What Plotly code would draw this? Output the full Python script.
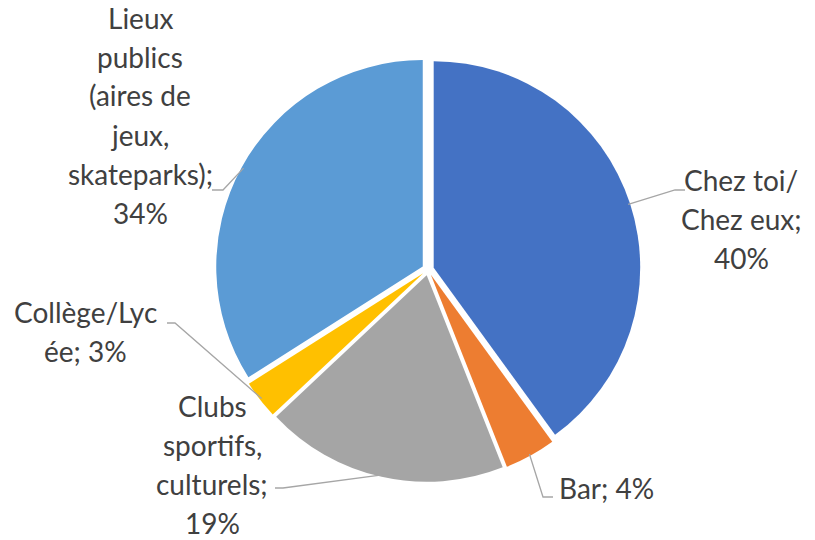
import math

import plotly.graph_objects as go

# data
labels = ["Chez toi/ Chez eux", "Bar", "Clubs sportifs, culturels", "Collège/Lycée",
          "Lieux publics (aires de jeux, skateparks)"]
values = [40, 4, 19, 3, 34]
colors = ["#4472C4", "#ED7D31", "#A5A5A5", "#FFC000", "#5B9BD5"]
label_lines = [
    ["Chez toi/", "Chez eux;", "40%"],
    ["Bar; 4%"],
    ["Clubs", "sportifs,", "culturels;", "19%"],
    ["Collège/Lyc", "ée; 3%"],
    ["Lieux", "publics", "(aires de", "jeux,", "skateparks);", "34%"],
]

W, H = 815, 540
CX, CY, R, PULL = 428, 269.5, 206.5, 0.029
LINE_H = 39

# label centres and leader-line elbows (pixels)
label_pos = [(741, 219), (606, 488), (212, 464), (85, 331), (140, 115)]
elbows = [[(685, 190), (675, 190)], [(553, 497), (543, 497)], [(275, 488), (283, 488)],
          [(167, 323), (175, 323)], [(212, 190), (223, 190)]]


def px(x, y):
    return x / W, 1 - y / H


half = R * (1 + PULL)
x0, y1 = px(CX - half, CY - half)
x1, y0 = px(CX + half, CY + half)
fig = go.Figure(
    go.Pie(
        labels=labels,
        values=values,
        sort=False,
        direction="clockwise",
        rotation=0,
        pull=[PULL] * len(values),
        marker=dict(colors=colors, line=dict(width=0)),
        textinfo="none",
        hoverinfo="label+percent",
        showlegend=False,
        domain=dict(x=[x0, x1], y=[y0, y1]),
    )
)

# leader lines: from label elbow to slice rim at mid-angle
total = sum(values)
cum = 0
shapes = []
annotations = []
for i, v in enumerate(values):
    mid = (cum + v / 2) / total * 2 * math.pi
    cum += v
    rr = R * (1 + PULL) - 2
    rx, ry = CX + rr * math.sin(mid), CY - rr * math.cos(mid)
    pts = elbows[i] + [(rx, ry)]
    path = "M " + " L ".join(f"{px(x, y)[0]},{px(x, y)[1]}" for x, y in pts)
    shapes.append(dict(type="path", xref="paper", yref="paper", path=path,
                       line=dict(color="#A6A6A6", width=1.3)))
    lines = label_lines[i]
    n = len(lines)
    for j, t in enumerate(lines):
        lx, ly = px(label_pos[i][0], label_pos[i][1] + (j - (n - 1) / 2) * LINE_H)
        annotations.append(dict(x=lx, y=ly, xref="paper", yref="paper", text=t,
                                showarrow=False, xanchor="center", yanchor="middle",
                                borderpad=0,
                                font=dict(family="Lato", size=28, color="#404040")))

fig.update_layout(
    width=W,
    height=H,
    margin=dict(l=0, r=0, t=0, b=0),
    paper_bgcolor="white",
    plot_bgcolor="white",
    shapes=shapes,
    annotations=annotations,
)

# drop the default 8px page margin so the figure fills the window
fig.write_html("out.html", config={"displayModeBar": False},
               post_script="document.body.style.margin='0';")
